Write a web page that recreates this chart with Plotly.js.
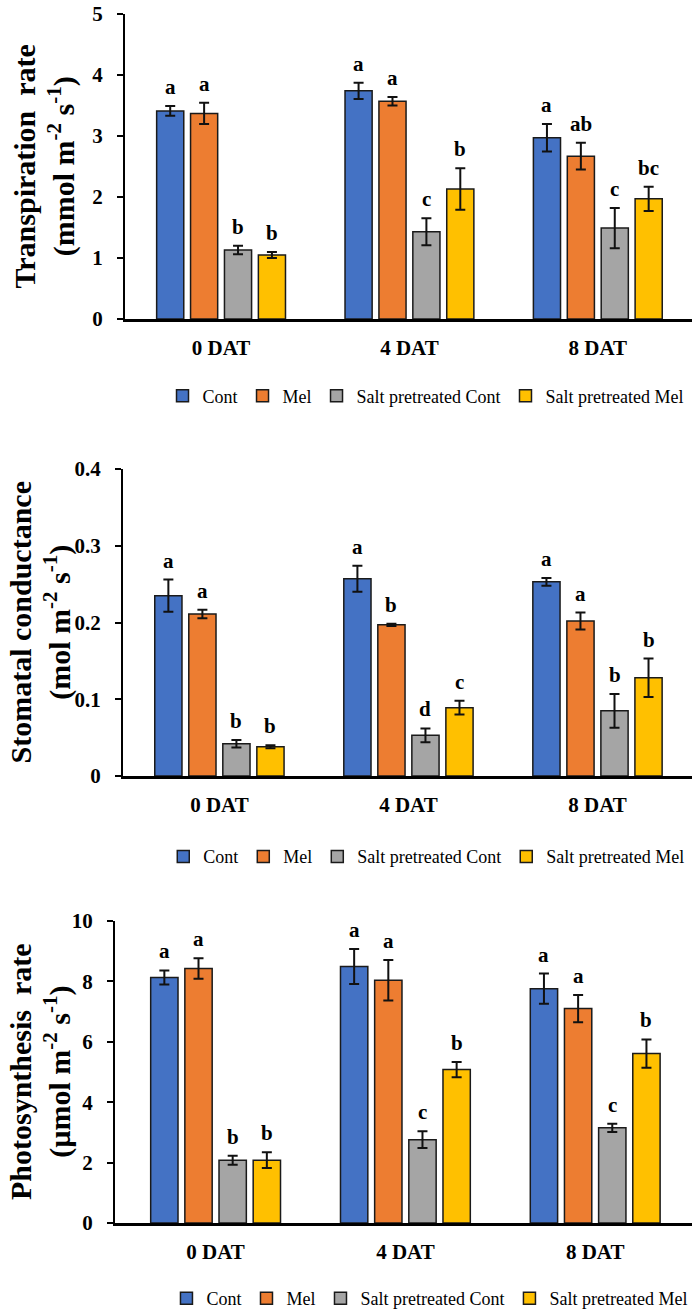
<!DOCTYPE html>
<html>
<head>
<meta charset="utf-8">
<script src="https://cdn.plot.ly/plotly-3.0.1.min.js"></script>
<style>
  html, body { margin: 0; padding: 0; background: #fff; }
  #p1, #p2, #p3 { width: 700px; }
  #p1 { height: 440px; }
  #p2 { height: 440px; }
  #p3 { height: 435px; }
</style>
</head>
<body>
<div id="p1"></div>
<div id="p2"></div>
<div id="p3"></div>
<script>
// ---------- data ----------
const categories = ['0 DAT', '4 DAT', '8 DAT'];
const seriesNames = ['Cont', 'Mel', 'Salt pretreated Cont', 'Salt pretreated Mel'];
const seriesColors = ['#4472C4', '#ED7D31', '#A5A5A5', '#FFC000'];

// Transpiration rate (mmol m-2 s-1)
const transCont = [3.41, 3.74, 2.97];
const transContErr = [0.08, 0.135, 0.225];
const transMel = [3.37, 3.57, 2.67];
const transMelErr = [0.175, 0.07, 0.22];
const transSaltCont = [1.13, 1.43, 1.49];
const transSaltContErr = [0.07, 0.22, 0.33];
const transSaltMel = [1.05, 2.13, 1.97];
const transSaltMelErr = [0.05, 0.34, 0.20];
const transLetters = [['a','a','a'], ['a','a','ab'], ['b','c','c'], ['b','b','bc']];
const transTicks = [0, 1, 2, 3, 4, 5];

// Stomatal conductance (mol m-2 s-1)
const gsCont = [0.235, 0.257, 0.253];
const gsContErr = [0.021, 0.017, 0.005];
const gsMel = [0.211, 0.197, 0.202];
const gsMelErr = [0.0055, 0.0015, 0.011];
const gsSaltCont = [0.042, 0.053, 0.085];
const gsSaltContErr = [0.005, 0.009, 0.022];
const gsSaltMel = [0.038, 0.089, 0.128];
const gsSaltMelErr = [0.002, 0.009, 0.025];
const gsLetters = [['a','a','a'], ['a','b','a'], ['b','d','b'], ['b','c','b']];
const gsTicks = [0, 0.1, 0.2, 0.3, 0.4];

// Photosynthesis rate (umol m-2 s-1)
const pnCont = [8.13, 8.49, 7.76];
const pnContErr = [0.235, 0.58, 0.50];
const pnMel = [8.43, 8.04, 7.10];
const pnMelErr = [0.34, 0.67, 0.45];
const pnSaltCont = [2.08, 2.76, 3.15];
const pnSaltContErr = [0.15, 0.275, 0.14];
const pnSaltMel = [2.08, 5.08, 5.61];
const pnSaltMelErr = [0.26, 0.25, 0.47];
const pnLetters = [['a','a','a'], ['a','a','a'], ['b','c','c'], ['b','b','b']];
const pnTicks = [0, 2, 4, 6, 8, 10];

// ---------- drawing ----------
const SERIF = '"Liberation Serif", "Times New Roman", Times, serif';
const BARGAP = 0.28;

function makePanel(divId, values, errors, letters, ticks, yTitle, box) {
  const traces = values.map((v, j) => ({
    type: 'bar',
    name: seriesNames[j],
    x: categories,
    y: v,
    marker: { color: seriesColors[j], line: { color: '#1a1a1a', width: 1.5 } },
    error_y: { type: 'data', array: errors[j], visible: true, color: '#111', thickness: 2, width: 5 },
    hoverinfo: 'skip'
  }));

  const slot = (1 - BARGAP) / values.length;
  const annotations = [];
  values.forEach((v, j) => {
    v.forEach((val, i) => {
      annotations.push({
        xref: 'x', yref: 'y',
        x: i + (j - (values.length - 1) / 2) * slot,
        y: val + errors[j][i],
        text: letters[j][i],
        showarrow: false,
        yanchor: 'bottom',
        yshift: 5,
        font: { family: SERIF, size: 21, color: '#000', weight: 'bold' }
      });
    });
  });
  annotations.push({
    xref: 'paper', yref: 'paper', x: 0, y: 0.5,
    xshift: box.titleX - box.l,
    xanchor: 'center', yanchor: 'middle',
    textangle: -90, showarrow: false,
    text: yTitle,
    font: { family: SERIF, size: 30, color: '#000', weight: 'bold' }
  });

  const layout = {
    width: 700, height: box.h,
    margin: { l: box.l, r: box.r, t: box.t, b: box.b, autoexpand: false },
    paper_bgcolor: '#fff', plot_bgcolor: '#fff',
    font: { family: SERIF, color: '#000' },
    barmode: 'group', bargap: BARGAP, bargroupgap: 0.2,
    showlegend: true,
    legend: {
      orientation: 'h', x: box.legX, xanchor: 'center', y: box.legY, yanchor: 'middle',
      font: { family: SERIF, size: 18, color: '#000' },
      itemwidth: 30, traceorder: 'normal'
    },
    xaxis: {
      type: 'category', range: box.xr, showline: true, linecolor: '#000', linewidth: 2.5,
      ticks: '', showgrid: false, zeroline: false, fixedrange: true,
      ticklabelstandoff: 8,
      tickfont: { family: SERIF, size: 21, color: '#000', weight: 'bold' }
    },
    yaxis: {
      range: [ticks[0], ticks[ticks.length - 1]], tickvals: ticks,
      showline: true, linecolor: '#000', linewidth: 2,
      ticks: 'outside', ticklen: 6, tickwidth: 2, tickcolor: '#000',
      showgrid: false, zeroline: false, fixedrange: true,
      ticklabelstandoff: 10,
      tickfont: { family: SERIF, size: 21, color: '#000', weight: 'bold' }
    },
    annotations: annotations
  };
  Plotly.newPlot(divId, traces, layout, { staticPlot: true, displayModeBar: false });
}

makePanel('p1',
  [transCont, transMel, transSaltCont, transSaltMel],
  [transContErr, transMelErr, transSaltContErr, transSaltMelErr],
  transLetters, transTicks,
  'Transpiration  rate<br>(mmol m<sup>-2</sup> s<sup>-1</sup>)',
  { h: 440, l: 125, r: 8, t: 14, b: 121, titleX: 44, xr: [-0.51, 2.5], legX: 0.53, legY: -0.253 });

makePanel('p2',
  [gsCont, gsMel, gsSaltCont, gsSaltMel],
  [gsContErr, gsMelErr, gsSaltContErr, gsSaltMelErr],
  gsLetters, gsTicks,
  'Stomatal conductance<br>(mol m<sup>-2</sup> s<sup>-1</sup>)',
  { h: 440, l: 123, r: 8, t: 29, b: 104, titleX: 40, xr: [-0.51, 2.5], legX: 0.533, legY: -0.263 });

makePanel('p3',
  [pnCont, pnMel, pnSaltCont, pnSaltMel],
  [pnContErr, pnMelErr, pnSaltContErr, pnSaltMelErr],
  pnLetters, pnTicks,
  'Photosynthesis  rate<br>(µmol m<sup>-2</sup> s<sup>-1</sup>)',
  { h: 435, l: 115, r: 8, t: 41, b: 92, titleX: 40, xr: [-0.53, 2.51], legX: 0.545, legY: -0.25 });
</script>
</body>
</html>
